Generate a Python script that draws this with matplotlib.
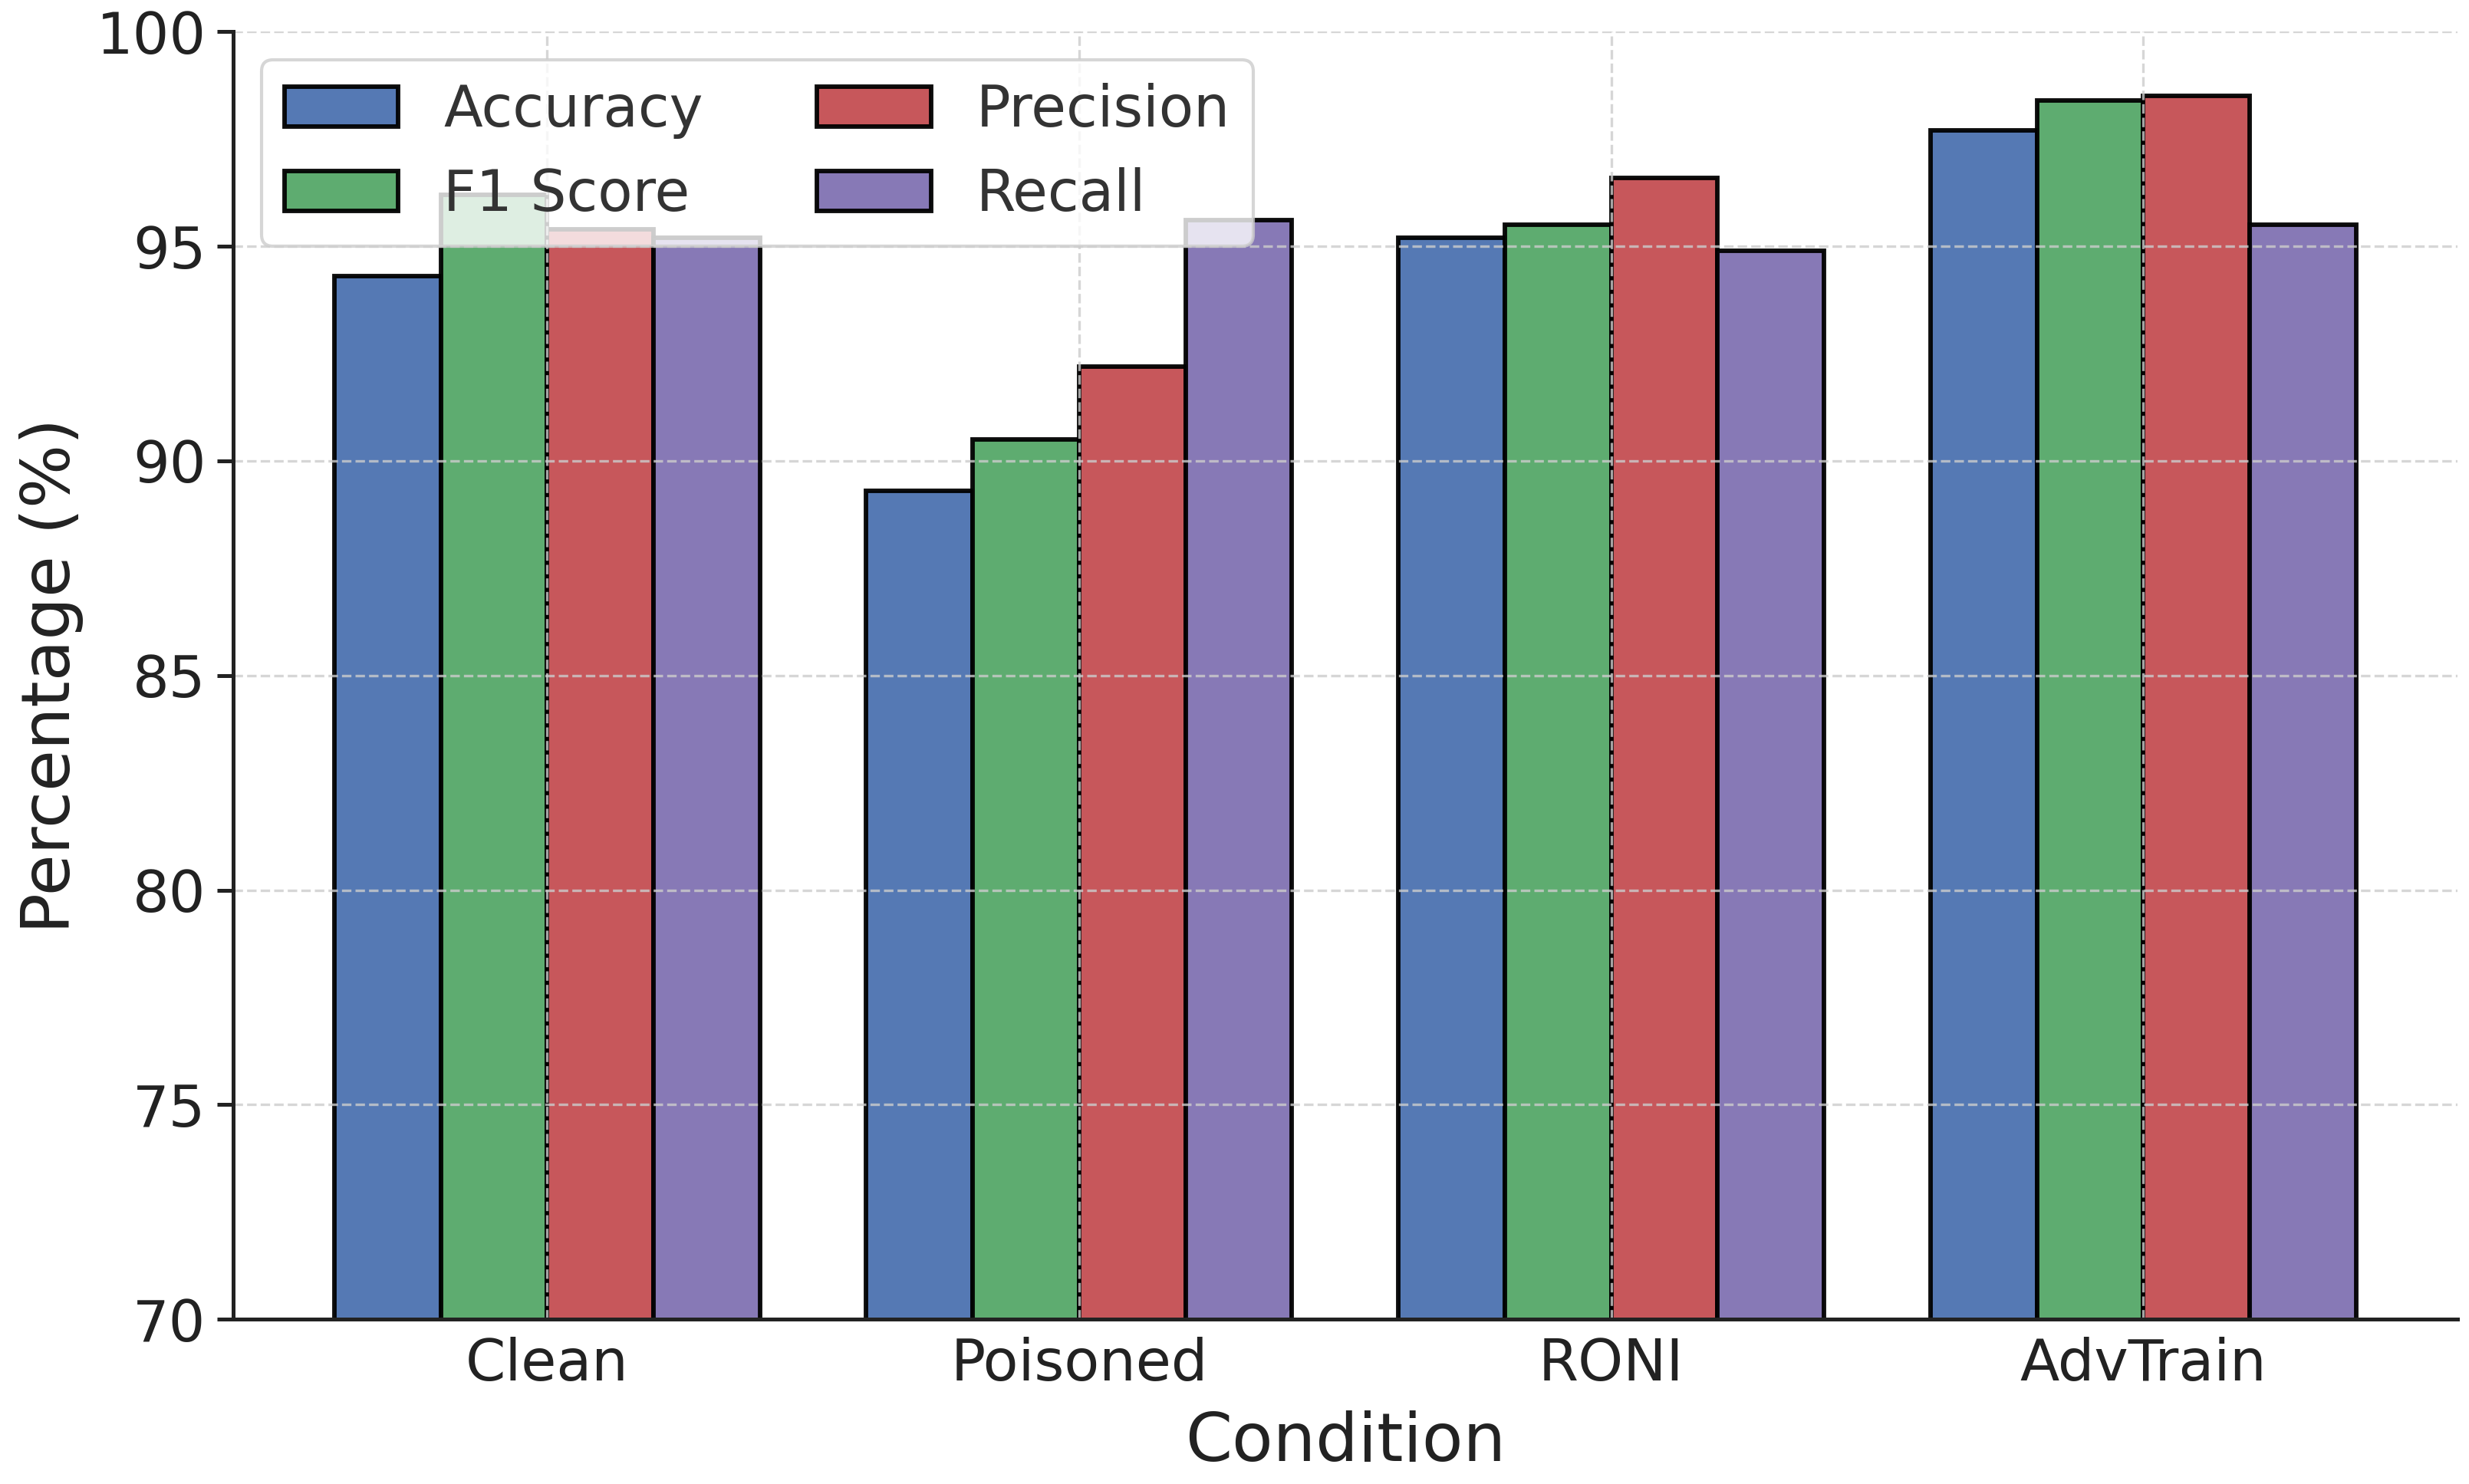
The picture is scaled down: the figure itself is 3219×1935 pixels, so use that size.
import numpy as np
import matplotlib.pyplot as plt

# conditions and metric scores (%)
conditions = ["Clean", "Poisoned", "RONI", "AdvTrain"]
accuracy = [94.3, 89.3, 95.2, 97.7]
f1_score = [96.2, 90.5, 95.5, 98.4]
precision = [95.4, 92.2, 96.6, 98.5]
recall = [95.2, 95.6, 94.9, 95.5]

metric_names = ["Accuracy", "F1 Score", "Precision", "Recall"]
colors = ["#4C72B0", "#55A868", "#C44E52", "#8172B2"]


def main():
    fig = plt.figure(figsize=(3220 / 300, 1935 / 300), dpi=300)
    ax = fig.add_axes([0.0944, 0.111, 0.9005, 0.8677])

    x = np.arange(len(conditions))
    width = 0.2
    series = [accuracy, f1_score, precision, recall]

    for i, (vals, name, c) in enumerate(zip(series, metric_names, colors)):
        ax.bar(x + (i - 1.5) * width, vals, width, label=name, color=c,
               edgecolor="black", linewidth=1.4, alpha=0.95)

    ax.set_ylim(70, 100)
    ax.set_yticks(np.arange(70, 101, 5))
    ax.set_xticks(x)
    ax.set_xticklabels(conditions)

    ax.tick_params(axis="y", labelsize=18, length=5, width=1.2, colors="#222222")
    ax.tick_params(axis="x", labelsize=18, length=0, pad=5.5, colors="#222222")

    ax.set_xlabel("Condition", fontsize=21, color="#222222", labelpad=5.5)
    ax.set_ylabel("Percentage (%)", fontsize=21, color="#222222", labelpad=4)

    ax.grid(True, linestyle="--", linewidth=0.8, color="#cccccc", alpha=0.8)

    for s in ["top", "right"]:
        ax.spines[s].set_visible(False)
    for s in ["left", "bottom"]:
        ax.spines[s].set_linewidth(1.2)
        ax.spines[s].set_color("#222222")

    leg = ax.legend(loc="upper left", ncol=2, fontsize=17.8, framealpha=0.8,
                    labelspacing=0.5)
    for t in leg.get_texts():
        t.set_color("#333333")

    fig.savefig("out.png", dpi=300)


if __name__ == "__main__":
    main()
